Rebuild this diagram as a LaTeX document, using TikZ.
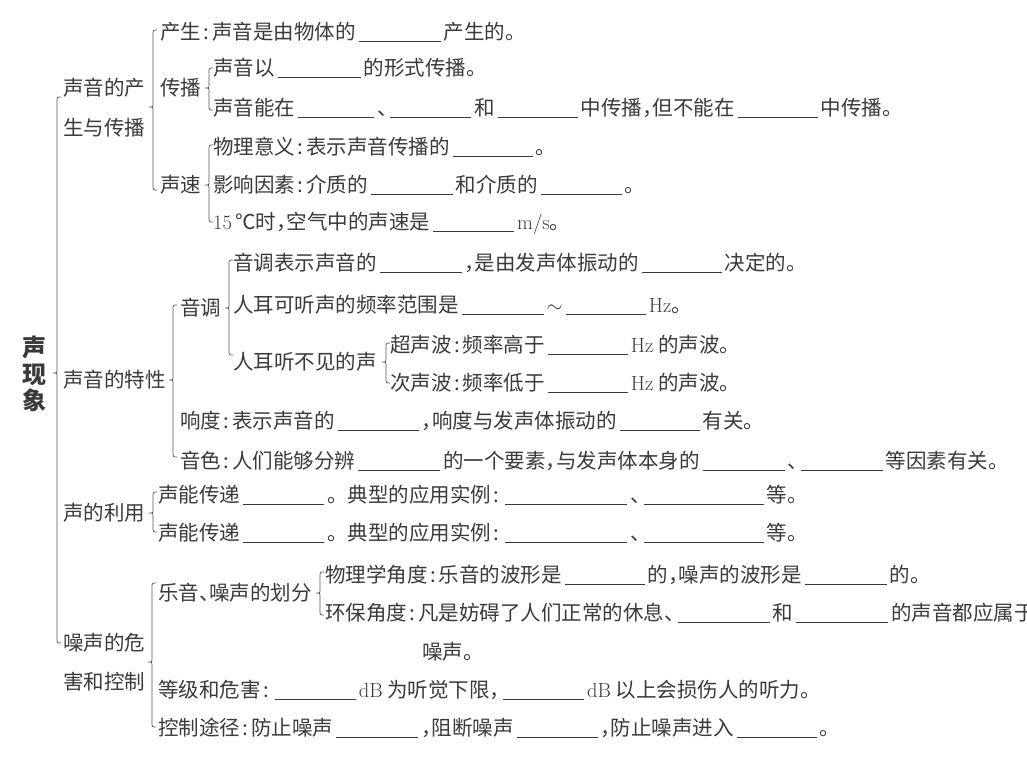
\documentclass[tikz,border=0pt]{standalone}
\usepackage{fontspec}
\newfontfamily\cjk{Noto Sans CJK SC}
\definecolor{ink}{HTML}{3A3A3A}
\definecolor{lin}{HTML}{555555}
\newcommand\bl[1]{\hspace{3pt}\rule[-2.5pt]{#1pt}{0.7pt}\hspace{3pt}}
\newcommand\cc{\makebox[0.55em][c]{:}}
\newcommand\cm{\makebox[0.5em][l]{，}}
\newcommand\dn{\makebox[0.5em][l]{、}}
\newcommand\lm[1]{{\rmfamily #1}}
\newcommand\kbrace[4]{%
  \draw[brc] (#1+4,#2) .. controls (#1,#2) .. (#1,#2+5) -- (#1,#3-4)
    .. controls (#1,#3) .. (#1-4,#3) .. controls (#1,#3) .. (#1,#3+4)
    -- (#1,#4-5) .. controls (#1,#4) .. (#1+4,#4);}
\begin{document}
\begin{tikzpicture}[x=1pt,y=-1pt,
  t/.style={anchor=base west,inner sep=0pt,text=ink,font=\cjk\fontsize{20.5}{24}\selectfont},
  brc/.style={draw=lin,line width=0.7pt}]
\useasboundingbox (0,0) rectangle (1027,756);
\fill[white] (0,0) rectangle (1027,756);
% root
\node[inner sep=0pt,text=ink,align=center,font=\cjk\bfseries\fontsize{24}{26.5}\selectfont] (root) at (35,374) {声\\现\\象};
\kbrace{57}{97}{373}{643}
% branch 1
\node[t] (p1a) at (63,95.5) {声音的产};
\node[t] (p1b) at (63,135.5) {生与传播};
\kbrace{153}{30}{107}{190}
\node[t] (r1) at (160,39.5) {产生\cc 声音是由物体的\bl{82}产生的。};
\node[t] (cb) at (160,95.5) {传播};
\kbrace{209}{68}{88}{110}
\node[t] (r2) at (213,75.5) {声音以\bl{83}的形式传播。};
\node[t] (r3) at (213,115.5) {声音能在\bl{76}\dn\bl{81}和\bl{80}中传播\cm 但不能在\bl{80}中传播。};
\node[t] (sv) at (160,192.5) {声速};
\kbrace{209}{145}{185}{222}
\node[t] (r4) at (213,154.5) {物理意义\cc 表示声音传播的\bl{80}。};
\node[t] (r5) at (213,192.5) {影响因素\cc 介质的\bl{82}和介质的\bl{81}。};
\node[t] (r6) at (213,229.5) {\lm{15}\,℃时\cm 空气中的声速是\bl{81}\lm{m/s}。};
% branch 2
\node[t] (p2) at (63,387.5) {声音的特性};
\kbrace{173}{305}{380}{457}
\node[t] (yd) at (180,315.5) {音调};
\kbrace{229}{260}{308}{355}
\node[t] (r7) at (233,270.5) {音调表示声音的\bl{82}\cm 是由发声体振动的\bl{80}决定的。};
\node[t] (r8) at (233,312.5) {人耳可听声的频率范围是\bl{82}$\sim$\bl{80}\lm{Hz}。};
\node[t] (tb) at (233,369.5) {人耳听不见的声};
\kbrace{386}{343}{362}{383}
\node[t] (r9) at (390,352.5) {超声波\cc 频率高于\bl{80}\lm{Hz} 的声波。};
\node[t] (r10) at (390,390.5) {次声波\cc 频率低于\bl{80}\lm{Hz} 的声波。};
\node[t] (r11) at (180,428.5) {响度\cc 表示声音的\bl{81}\cm 响度与发声体振动的\bl{80}有关。};
\node[t] (r12) at (180,468.5) {音色\cc 人们能够分辨\bl{82}的一个要素\cm 与发声体本身的\bl{82}\dn\bl{82}等因素有关。};
% branch 3
\node[t] (p3) at (63,520.5) {声的利用};
\kbrace{153}{492}{513}{532}
\node[t] (r13) at (158,502.5) {声能传递\bl{81}。典型的应用实例\cc\bl{122}\dn\bl{120}等。};
\node[t] (r14) at (158,540.5) {声能传递\bl{81}。典型的应用实例\cc\bl{122}\dn\bl{120}等。};
% branch 4
\node[t] (p4a) at (63,650.5) {噪声的危};
\node[t] (p4b) at (63,689.5) {害和控制};
\kbrace{152}{583}{662}{727}
\node[t] (hf) at (158,600.5) {乐音\dn 噪声的划分};
\kbrace{320}{572}{593}{615}
\node[t] (r15) at (325,582.5) {物理学角度\cc 乐音的波形是\bl{80}的\cm 噪声的波形是\bl{82}的。};
\node[t] (r16) at (325,620.5) {环保角度\cc 凡是妨碍了人们正常的休息\dn\bl{92}和\bl{92}的声音都应属于};
\node[t] (r17) at (422,659.5) {噪声。};
\node[t] (r18) at (158,697.5) {等级和危害\cc\bl{81}\lm{dB} 为听觉下限\cm\bl{81}\lm{dB} 以上会损伤人的听力。};
\node[t] (r19) at (158,735.5) {控制途径\cc 防止噪声\bl{82}\cm 阻断噪声\bl{81}\cm 防止噪声进入\bl{80}。};
\end{tikzpicture}
\end{document}
